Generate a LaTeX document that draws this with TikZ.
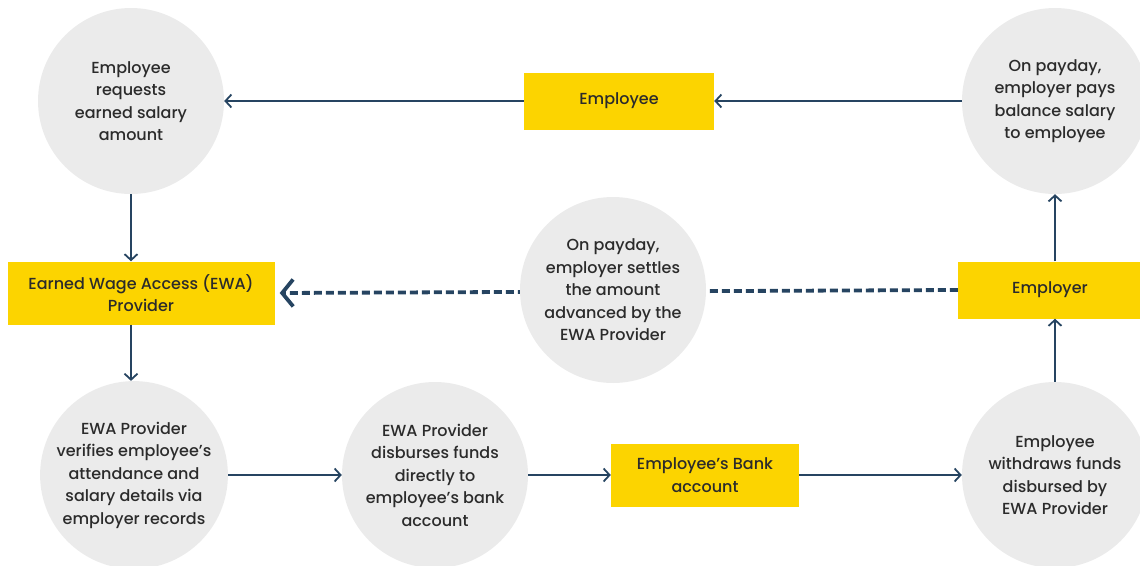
\documentclass[tikz,border=0pt]{standalone}
\usepackage{fontspec}
\setmainfont{Poppins}[UprightFont=* Medium]
\usetikzlibrary{arrows.meta,backgrounds}

\newlength{\du}
\setlength{\du}{1pt}

\definecolor{ewayellow}{rgb}{0.988, 0.831, 0.000}
\definecolor{ewagrey}{rgb}{0.922, 0.922, 0.922}
\definecolor{ewanavy}{rgb}{0.149, 0.267, 0.380}
\definecolor{ewatext}{rgb}{0.170, 0.170, 0.170}

\tikzset{
  stepcircle/.style={circle, fill=ewagrey, minimum size=186\du, inner sep=0pt,
    align=center, text=ewatext, font=\fontsize{16}{22.5}\selectfont},
  stepbox/.style={rectangle, fill=ewayellow, inner sep=0pt, align=center,
    text=ewatext, font=\fontsize{16}{22.5}\selectfont},
  flow/.style={draw=ewanavy, line width=1.8pt,
    -{Straight Barb[length=6pt, width=13pt, line width=1.8pt]}},
  settle/.style={draw=ewanavy, line width=3.8pt, dash pattern=on 8pt off 4pt,
    -{Straight Barb[length=11pt, width=27pt, line width=3.8pt]}},
}

\begin{document}
\begin{tikzpicture}[yscale=-1]
\useasboundingbox (0,0) rectangle (1140\du,565\du);

% circles
\node[stepcircle] (request) at (131\du,101\du) {Employee\\requests\\earned salary\\amount};
\node[stepcircle] (balance) at (1055\du,101\du) {On payday,\\employer pays\\balance salary\\to employee};
\node[stepcircle] (settles) at (613\du,290\du) {On payday,\\employer settles\\the amount\\advanced by the\\EWA Provider};
\node[stepcircle] (verify) at (134\du,475\du) {EWA Provider\\verifies employee's\\attendance and\\salary details via\\employer records};
\node[stepcircle] (disburse) at (435\du,475\du) {EWA Provider\\disburses funds\\directly to\\employee's bank\\account};
\node[stepcircle] (withdraw) at (1055\du,475\du) {Employee\\withdraws funds\\disbursed by\\EWA Provider};

% boxes
\node[stepbox, minimum width=190\du, minimum height=57\du] (employee) at (619\du,101\du) {Employee};
\node[stepbox, minimum width=267\du, minimum height=63\du] (ewa) at (141\du,293\du) {Earned Wage Access (EWA)\\Provider};
\node[stepbox, minimum width=184\du, minimum height=57\du] (employer) at (1050\du,290\du) {Employer};
\node[stepbox, minimum width=188\du, minimum height=63\du] (bank) at (705\du,475\du) {Employee's Bank\\account};

% arrows
\draw[flow] (employee.west) -- (request.east);
\draw[flow] (balance.west) -- (employee.east);
\draw[flow] (request.south) -- (request.south |- ewa.north);
\draw[flow] (request.south |- ewa.south) -- (verify.north -| request.south);
\draw[flow] (verify.east) -- (disburse.west);
\draw[flow] (disburse.east) -- (bank.west);
\draw[flow] (bank.east) -- (withdraw.west);
\draw[flow] (withdraw.north) -- (withdraw.north |- employer.south);
\draw[flow] (withdraw.north |- employer.north) -- (balance.south);
\begin{pgfonlayer}{background}
\draw[settle] (employer.west) -- ([xshift=5\du]ewa.east);
\end{pgfonlayer}
\end{tikzpicture}
\end{document}
